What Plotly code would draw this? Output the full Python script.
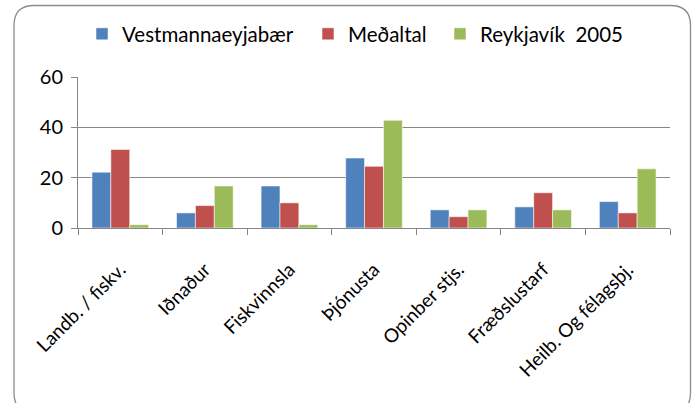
import plotly.graph_objects as go

categories = ["Landb. / fiskv.", "Iðnaður", "Fiskvinnsla", "Þjónusta",
              "Opinber stjs.", "Fræðslustarf", "Heilb. Og félagsþj."]
series_names = ["Vestmannaeyjabær", "Meðaltal", "Reykjavík  2005"]
vestmannaeyjabaer = [22.2, 6.0, 16.7, 27.8, 7.2, 8.4, 10.5]
medaltal = [31.2, 8.9, 10.0, 24.5, 4.5, 14.0, 6.0]
reykjavik = [1.3, 16.7, 1.3, 42.8, 7.2, 7.2, 23.5]
y_ticks = [0, 20, 40, 60]

colors = ["#4F81BD", "#C0504D", "#9BBB59"]
W, H = 696, 403
L, R, T, B = 78, 26, 77, 175
FONT = "Lato"
legend_ids = ["legend", "legend2", "legend3"]
legend_x = [82, 308, 440]

fig = go.Figure()
for name, vals, c, lid in zip(series_names, [vestmannaeyjabaer, medaltal, reykjavik],
                              colors, legend_ids):
    fig.add_trace(go.Bar(name=name, x=categories, y=vals, marker_color=c, legend=lid,
                         marker_line=dict(color="rgba(255,255,255,0.55)", width=1)))

pw, ph = W - L - R, H - T - B
def P(x, y):
    a, b = (x - L) / pw, (H - B - y) / ph
    return f"{a:.5f},{b:.5f}"

# rounded outer frame
x0, x1, y0, y1, r = 14, 690.5, 5.5, 413, 20
path = (f"M {P(x0 + r, y0)} L {P(x1 - r, y0)} Q {P(x1, y0)} {P(x1, y0 + r)} "
        f"L {P(x1, y1 - r)} Q {P(x1, y1)} {P(x1 - r, y1)} "
        f"L {P(x0 + r, y1)} Q {P(x0, y1)} {P(x0, y1 - r)} "
        f"L {P(x0, y0 + r)} Q {P(x0, y0)} {P(x0 + r, y0)} Z")
fig.add_shape(type="path", path=path, xref="paper", yref="paper",
              line=dict(color="#8C8C8C", width=1.3), layer="below")

legend_common = dict(orientation="h", xref="container", yref="container",
                     xanchor="left", yanchor="top", itemwidth=30,
                     font=dict(family=FONT, size=20.5, color="black"))
layout_legends = {}
for lid, lx in zip(legend_ids, legend_x):
    layout_legends[lid] = dict(legend_common, x=lx / W, y=1 - 14 / H)

fig.update_layout(
    width=W, height=H,
    margin=dict(l=L, r=R, t=T, b=B, autoexpand=False),
    paper_bgcolor="white", plot_bgcolor="white",
    barmode="group", bargap=0.33, bargroupgap=0,
    font=dict(family=FONT, size=20, color="black"),
    showlegend=True,
    **layout_legends,
)
fig.update_xaxes(type="category", tickangle=-45, showline=True, linecolor="#868686",
                 linewidth=1, ticks="outside", tickson="boundaries", ticklen=6,
                 tickcolor="#868686", showgrid=False, ticklabelstandoff=22,
                 automargin=False,
                 tickfont=dict(family=FONT, size=19, color="black"))
fig.update_yaxes(range=[0, 60], tickvals=y_ticks, showline=True, linecolor="#868686",
                 linewidth=1, ticks="outside", ticklen=6, tickcolor="#868686",
                 showgrid=True, gridcolor="#868686", gridwidth=1, zeroline=False,
                 ticklabelstandoff=4, automargin=False,
                 tickfont=dict(family=FONT, size=20, color="black"))

fig.write_html("out.html", post_script="document.body.style.margin='0';",
               config={"displayModeBar": False})
